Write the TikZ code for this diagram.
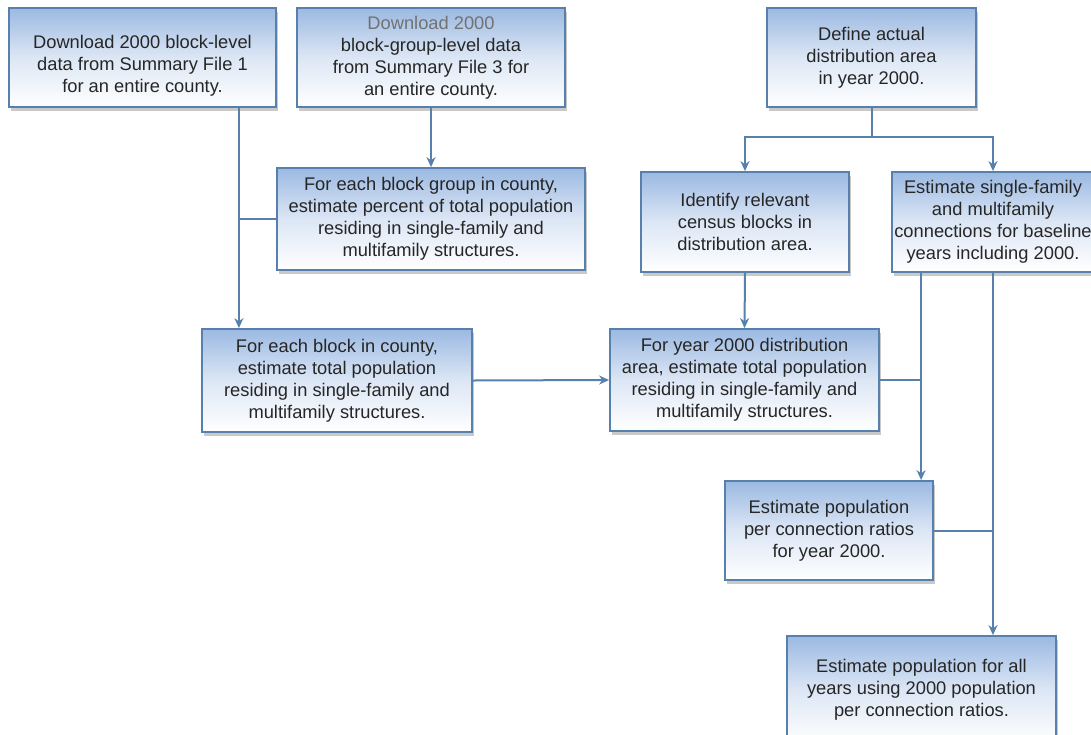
\documentclass[tikz,border=0pt]{standalone}
\usepackage{fontspec}
\setmainfont{Liberation Sans}
\usepackage{xcolor}
\usetikzlibrary{arrows.meta, positioning, calc, shadows}
\definecolor{boxedge}{RGB}{88,128,172}
\definecolor{boxtop}{RGB}{155,185,226}
\definecolor{boxtext}{RGB}{38,38,38}
\tikzset{
	block/.style={rectangle, draw=boxedge, line width=1.8pt, top color=boxtop, bottom color=white, middle color=boxtop!35!white, text=boxtext, align=center, inner sep=2pt, font=\fontsize{18.3}{22}\selectfont, drop shadow={shadow xshift=2pt, shadow yshift=-4pt, opacity=0.35, fill=black!60}},
	line/.style={draw=boxedge, line width=2pt},
	arrow/.style={line, -{Stealth[length=10pt, width=9pt]}}
}

\begin{document}
\begin{tikzpicture}[x=1pt, y=-1pt]
	
	% --- Page ---
	\useasboundingbox (0,0) rectangle (1091,734);
	\clip (0,0) rectangle (1091,734);
	\fill[white] (0,0) rectangle (1091,734);
	
	% --- Census data (left) ---
	\node[block, minimum width=267pt, minimum height=99pt] (dlsfone) at (142.5,57.5) {\rule{0pt}{30pt}Download 2000 block-level\\data from Summary File 1\\for an entire county.};
	\node[block, minimum width=268pt, minimum height=99pt] (dlsfthree) at (431,57.5) {{\color{boxtext!65}Download 2000}\\block-group-level data\\from Summary File 3 for\\an entire county.};
	\node[block, minimum width=308pt, minimum height=102pt] (bgpct) at (431,219) {For each block group in county,\\estimate percent of total population\\residing in single-family and\\multifamily structures.};
	\node[block, minimum width=270pt, minimum height=103pt] (blkpop) at (337,380.5) {For each block in county,\\estimate total population\\residing in single-family and\\multifamily structures.};
	
	% --- Distribution area (right) ---
	\node[block, minimum width=209pt, minimum height=99pt] (defarea) at (871.5,57.5) {Define actual\\distribution area\\in year 2000.};
	\node[block, minimum width=208pt, minimum height=100pt] (idblk) at (745,222) {Identify relevant\\census blocks in\\distribution area.};
	\node[block, minimum width=202pt, minimum height=100pt] (estconn) at (993,222) {Estimate single-family\\and multifamily\\connections for baseline\\years including 2000.};
	\node[block, minimum width=269pt, minimum height=102pt] (areapop) at (744.5,380) {For year 2000 distribution\\area, estimate total population\\residing in single-family and\\multifamily structures.};
	\node[block, minimum width=208pt, minimum height=99pt] (ratio) at (829,530.5) {Estimate population\\per connection ratios\\for year 2000.};
	\node[block, minimum width=269pt, minimum height=108pt] (allyrs) at (921.5,690) {Estimate population for all\\years using 2000 population\\per connection ratios.};
	
	% --- Connectors (left) ---
	\coordinate (jleft) at ($(dlsfone.south east)+(-38,0)$);
	\draw[arrow] (jleft) -- (jleft |- blkpop.north);
	\draw[line] (bgpct.west) -- (bgpct.west -| jleft);
	\draw[arrow] (dlsfthree.south) -- (bgpct.north);
	\draw[arrow] (blkpop.east) -- (areapop.west);
	
	% --- Connectors (right) ---
	\coordinate (jtop) at ($(defarea.south)+(0,29)$);
	\draw[line] (defarea.south) -- (jtop);
	\draw[arrow] (jtop) -| (idblk.north);
	\draw[arrow] (jtop) -| (estconn.north);
	\draw[arrow] (idblk.south) -- (areapop.north);
	\coordinate (trunka) at ($(estconn.south west)+(30,0)$);
	\coordinate (trunkb) at (estconn.south);
	\draw[arrow] (trunka) -- (trunka |- ratio.north);
	\draw[arrow] (trunkb) -- (trunkb |- allyrs.north);
	\draw[line] (areapop.east) -- (areapop.east -| trunka);
	\draw[line] (ratio.east) -- (ratio.east -| trunkb);
	
\end{tikzpicture}
\end{document}
